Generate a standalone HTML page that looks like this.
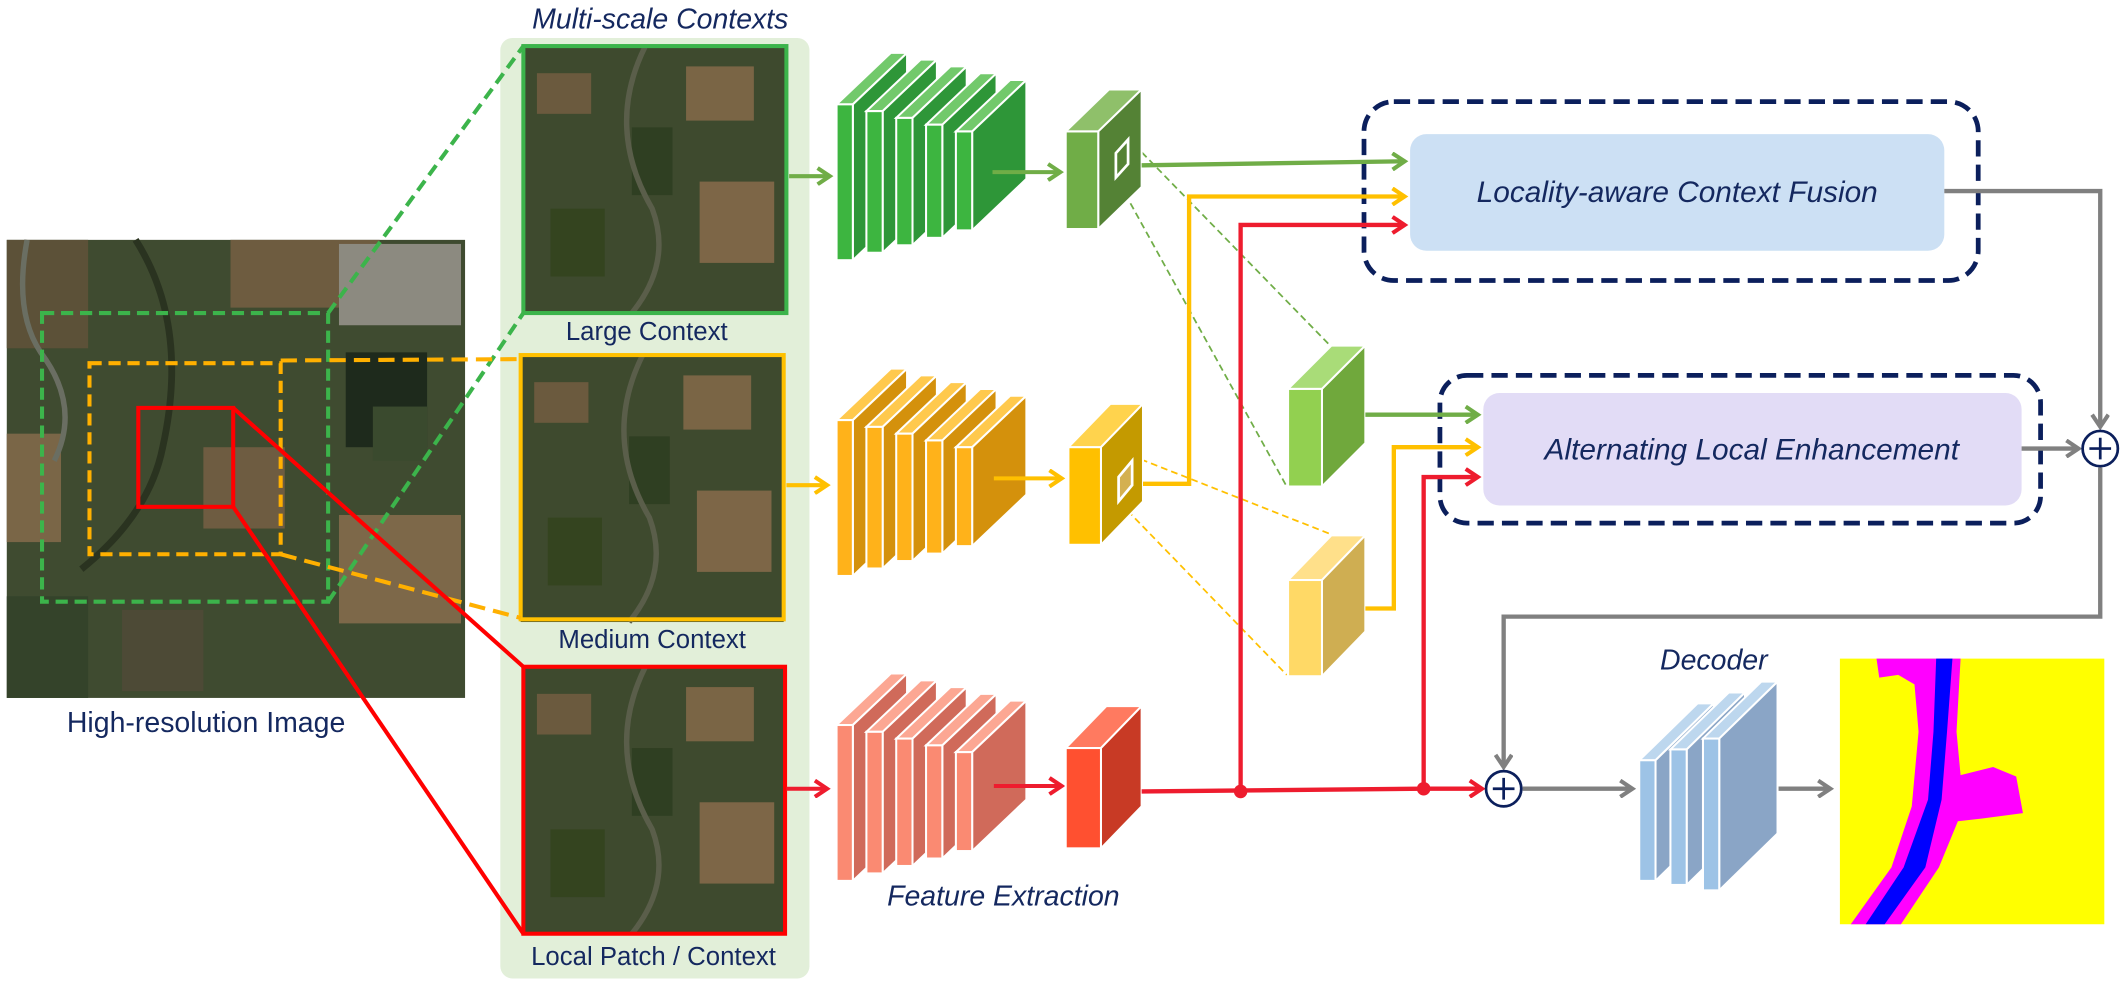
<!DOCTYPE html>
<html><head><meta charset="utf-8"><style>
html,body{margin:0;padding:0;background:#fff}
svg{display:block}
text{font-family:"Liberation Sans","DejaVu Sans",sans-serif;fill:#14285f}
.it{font-style:italic}
.g1 rect{fill:#3db540}.g1 .tp{fill:#72c96b}.g1 .sd{fill:#2e9638}
.o1 rect{fill:#ffb21a}.o1 .tp{fill:#ffc94d}.o1 .sd{fill:#d4910c}
.r1 rect{fill:#fa8a72}.r1 .tp{fill:#fca793}.r1 .sd{fill:#d06a5a}
.b1 rect{fill:#9dc3e6}.b1 .tp{fill:#bdd7ee}.b1 .sd{fill:#8aa5c6}
.sl *{stroke:#fff;stroke-width:1.5}
</style></head><body>
<svg width="2126" height="992" viewBox="0 0 1568 732" preserveAspectRatio="none" xmlns="http://www.w3.org/2000/svg">
<defs>
<marker id="ag" markerWidth="14" markerHeight="14" refX="11" refY="7" orient="auto" markerUnits="userSpaceOnUse"><path d="M2,1 L11,7 L2,13" fill="none" stroke="#70ad47" stroke-width="3"/></marker>
<marker id="ao" markerWidth="14" markerHeight="14" refX="11" refY="7" orient="auto" markerUnits="userSpaceOnUse"><path d="M2,1 L11,7 L2,13" fill="none" stroke="#ffc000" stroke-width="3"/></marker>
<marker id="ar" markerWidth="14" markerHeight="14" refX="11" refY="7" orient="auto" markerUnits="userSpaceOnUse"><path d="M2,1 L11,7 L2,13" fill="none" stroke="#ee1c2e" stroke-width="3"/></marker>
<marker id="ay" markerWidth="14" markerHeight="14" refX="11" refY="7" orient="auto" markerUnits="userSpaceOnUse"><path d="M2,1 L11,7 L2,13" fill="none" stroke="#808080" stroke-width="3"/></marker>
<g id="sat">
 <rect x="0" y="0" width="194" height="197" fill="#3e4a2e"/>
 <rect x="10" y="20" width="40" height="30" fill="#6b5a3e"/>
 <rect x="120" y="15" width="50" height="40" fill="#7a6545"/>
 <rect x="130" y="100" width="55" height="60" fill="#7d6647"/>
 <rect x="20" y="120" width="40" height="50" fill="#34441f"/>
 <rect x="80" y="60" width="30" height="50" fill="#2f3f22"/>
 <path d="M90,0 Q60,60 95,120 Q110,160 80,197" stroke="#5a5e4a" stroke-width="4" fill="none"/>
</g>
</defs>

<!-- Satellite image -->
<rect x="5" y="177" width="338" height="338" fill="#3f4b30"/>
<rect x="5" y="177" width="60" height="80" fill="#5c5138"/>
<rect x="170" y="177" width="110" height="50" fill="#6e5c40"/>
<rect x="250" y="180" width="90" height="60" fill="#8c8a80"/>
<rect x="255" y="260" width="60" height="70" fill="#1e2a1c"/>
<rect x="275" y="300" width="40" height="40" fill="#3a4a2e"/>
<rect x="5" y="320" width="40" height="80" fill="#7a6647"/>
<rect x="150" y="330" width="60" height="60" fill="#6e5c41"/>
<rect x="250" y="380" width="90" height="80" fill="#7d6849"/>
<rect x="90" y="450" width="60" height="60" fill="#4d4a36"/>
<rect x="5" y="440" width="60" height="75" fill="#34432a"/>
<path d="M20,177 Q10,230 30,260 Q60,300 40,340" stroke="#6a6e62" stroke-width="4" fill="none"/>
<path d="M100,177 Q140,240 120,330 Q110,380 60,420" stroke="#2a3320" stroke-width="5" fill="none"/>
<text x="152" y="540" font-size="21" text-anchor="middle">High-resolution Image</text>

<!-- green panel -->
<rect x="369" y="28" width="228" height="694" rx="9" fill="#e2efd9"/>
<text x="487" y="21" font-size="21" class="it" text-anchor="middle">Multi-scale Contexts</text>

<!-- context images -->
<use href="#sat" transform="translate(386,34)"/>
<rect x="386" y="34" width="194" height="197" fill="none" stroke="#3cb44b" stroke-width="3"/>
<text x="477" y="251" font-size="19" text-anchor="middle">Large Context</text>
<use href="#sat" transform="translate(384,262)"/>
<rect x="384" y="262" width="194" height="195" fill="none" stroke="#ffc000" stroke-width="3"/>
<text x="481" y="478" font-size="19" text-anchor="middle">Medium Context</text>
<use href="#sat" transform="translate(386,492)"/>
<rect x="386" y="492" width="193" height="197" fill="none" stroke="#ff0000" stroke-width="3"/>
<text x="482" y="712" font-size="19" text-anchor="middle">Local Patch / Context</text>

<!-- boxes in big image and zoom lines -->
<rect x="31" y="231" width="211" height="213" fill="none" stroke="#3cb44b" stroke-width="3" stroke-dasharray="9 5"/>
<rect x="66" y="268" width="141" height="141" fill="none" stroke="#ffb000" stroke-width="3" stroke-dasharray="9 5"/>
<rect x="102" y="301" width="70" height="73" fill="none" stroke="#ff0000" stroke-width="3"/>
<line x1="242" y1="231" x2="386" y2="34" stroke="#3cb44b" stroke-width="3" stroke-dasharray="9 5"/>
<line x1="242" y1="444" x2="386" y2="231" stroke="#3cb44b" stroke-width="3" stroke-dasharray="9 5"/>
<line x1="207" y1="266" x2="384" y2="265" stroke="#ffb000" stroke-width="3" stroke-dasharray="12 6"/>
<line x1="207" y1="409" x2="384" y2="456" stroke="#ffb000" stroke-width="3" stroke-dasharray="12 6"/>
<line x1="172" y1="301" x2="386" y2="492" stroke="#ff0000" stroke-width="3"/>
<line x1="172" y1="374" x2="386" y2="689" stroke="#ff0000" stroke-width="3"/>

<!-- arrows into stacks -->
<line x1="582" y1="130" x2="612" y2="130" stroke="#70ad47" stroke-width="3" marker-end="url(#ag)"/>
<line x1="580" y1="358" x2="610" y2="358" stroke="#ffc000" stroke-width="3" marker-end="url(#ao)"/>
<line x1="580" y1="582" x2="610" y2="582" stroke="#ee1c2e" stroke-width="3" marker-end="url(#ar)"/>

<!-- stacks -->
<g class="sl g1">
 <polygon class="tp" points="617,77 629,77 669,39 657,39"/><polygon class="sd" points="629,77 669,39 669,154 629,192"/><rect x="617" y="77" width="12" height="115"/>
 <polygon class="tp" points="639,82 651,82 691,44 679,44"/><polygon class="sd" points="651,82 691,44 691,148.5 651,186.5"/><rect x="639" y="82" width="12" height="104.5"/>
 <polygon class="tp" points="661,87 673,87 713,49 701,49"/><polygon class="sd" points="673,87 713,49 713,143 673,181"/><rect x="661" y="87" width="12" height="94"/>
 <polygon class="tp" points="683,92 695,92 735,54 723,54"/><polygon class="sd" points="695,92 735,54 735,137.5 695,175.5"/><rect x="683" y="92" width="12" height="83.5"/>
 <polygon class="tp" points="705,97 717,97 757,59 745,59"/><polygon class="sd" points="717,97 757,59 757,132 717,170"/><rect x="705" y="97" width="12" height="73"/>
</g>
<g class="sl o1" transform="translate(0,233)">
 <polygon class="tp" points="617,77 629,77 669,39 657,39"/><polygon class="sd" points="629,77 669,39 669,154 629,192"/><rect x="617" y="77" width="12" height="115"/>
 <polygon class="tp" points="639,82 651,82 691,44 679,44"/><polygon class="sd" points="651,82 691,44 691,148.5 651,186.5"/><rect x="639" y="82" width="12" height="104.5"/>
 <polygon class="tp" points="661,87 673,87 713,49 701,49"/><polygon class="sd" points="673,87 713,49 713,143 673,181"/><rect x="661" y="87" width="12" height="94"/>
 <polygon class="tp" points="683,92 695,92 735,54 723,54"/><polygon class="sd" points="695,92 735,54 735,137.5 695,175.5"/><rect x="683" y="92" width="12" height="83.5"/>
 <polygon class="tp" points="705,97 717,97 757,59 745,59"/><polygon class="sd" points="717,97 757,59 757,132 717,170"/><rect x="705" y="97" width="12" height="73"/>
</g>
<g class="sl r1" transform="translate(0,458)">
 <polygon class="tp" points="617,77 629,77 669,39 657,39"/><polygon class="sd" points="629,77 669,39 669,154 629,192"/><rect x="617" y="77" width="12" height="115"/>
 <polygon class="tp" points="639,82 651,82 691,44 679,44"/><polygon class="sd" points="651,82 691,44 691,148.5 651,186.5"/><rect x="639" y="82" width="12" height="104.5"/>
 <polygon class="tp" points="661,87 673,87 713,49 701,49"/><polygon class="sd" points="673,87 713,49 713,143 673,181"/><rect x="661" y="87" width="12" height="94"/>
 <polygon class="tp" points="683,92 695,92 735,54 723,54"/><polygon class="sd" points="695,92 735,54 735,137.5 695,175.5"/><rect x="683" y="92" width="12" height="83.5"/>
 <polygon class="tp" points="705,97 717,97 757,59 745,59"/><polygon class="sd" points="717,97 757,59 757,132 717,170"/><rect x="705" y="97" width="12" height="73"/>
</g>
<text x="740" y="668" font-size="21" class="it" text-anchor="middle">Feature Extraction</text>

<line x1="732" y1="127" x2="782" y2="127" stroke="#70ad47" stroke-width="3" marker-end="url(#ag)"/>
<line x1="733" y1="353" x2="783" y2="353" stroke="#ffc000" stroke-width="3" marker-end="url(#ao)"/>
<line x1="733" y1="580" x2="783" y2="580" stroke="#ee1c2e" stroke-width="3" marker-end="url(#ar)"/>

<!-- thin dashed -->
<g stroke-width="1.3" stroke-dasharray="5 3" fill="none">
<line x1="831" y1="101" x2="981" y2="255" stroke="#70ad47"/>
<line x1="826" y1="136" x2="949" y2="359" stroke="#70ad47"/>
<line x1="834" y1="336" x2="981" y2="394" stroke="#ffc000"/>
<line x1="826" y1="371" x2="949" y2="498" stroke="#ffc000"/>
</g>

<!-- cubes -->
<g stroke="#fff" stroke-width="1.5">
<polygon points="786,97 810,97 842,66 818,66" fill="#8fc06a"/><polygon points="810,97 842,66 842,138 810,169" fill="#548235"/><rect x="786" y="97" width="24" height="72" fill="#70ad47"/>
<polygon points="823,113 832,103 832,121 823,131" fill="#548235" stroke-width="2"/>
<polygon points="788,330 812,330 843,298 819,298" fill="#ffd34d"/><polygon points="812,330 843,298 843,370 812,402" fill="#c49a00"/><rect x="788" y="330" width="24" height="72" fill="#ffc000"/>
<polygon points="825,352 835,340 835,358 825,370" fill="#d4b050" stroke-width="2"/>
<polygon points="786,552 812,552 842,521 816,521" fill="#ff7a60"/><polygon points="812,552 842,521 842,595 812,626" fill="#c83a25"/><rect x="786" y="552" width="26" height="74" fill="#ff5030"/>
<polygon points="950,287 975,287 1007,255 982,255" fill="#a9dc78"/><polygon points="975,287 1007,255 1007,327 975,359" fill="#70a83c"/><rect x="950" y="287" width="25" height="72" fill="#92d050"/>
<polygon points="950,428 975,428 1007,395 982,395" fill="#ffe08a"/><polygon points="975,428 1007,395 1007,466 975,499" fill="#cfae52"/><rect x="950" y="428" width="25" height="71" fill="#ffd966"/>
</g>

<!-- modules -->
<rect x="1006" y="75" width="453" height="132" rx="22" fill="none" stroke="#0b1f5c" stroke-width="3.5" stroke-dasharray="12 6"/>
<rect x="1040" y="99" width="394" height="86" rx="12" fill="#cce0f4"/>
<text x="1237" y="149" font-size="22" class="it" text-anchor="middle">Locality-aware Context Fusion</text>
<rect x="1062" y="277" width="443" height="109" rx="20" fill="none" stroke="#0b1f5c" stroke-width="3.5" stroke-dasharray="12 6"/>
<rect x="1094" y="290" width="397" height="83" rx="12" fill="#e2dcf6"/>
<text x="1292" y="339" font-size="22" class="it" text-anchor="middle">Alternating Local Enhancement</text>

<!-- connectors -->
<g fill="none" stroke-width="3.2">
<polyline points="842,122 1036,119" stroke="#70ad47" marker-end="url(#ag)"/>
<polyline points="843,357 877,357 877,145 1036,145" stroke="#ffc000" marker-end="url(#ao)"/>
<polyline points="842,584 1050,582 1093,582" stroke="#ee1c2e" marker-end="url(#ar)"/>
<polyline points="915,584 915,166 1036,166" stroke="#ee1c2e" marker-end="url(#ar)"/>
<polyline points="1050,582 1050,352 1090,352" stroke="#ee1c2e" marker-end="url(#ar)"/>
<polyline points="1007,306 1090,306" stroke="#70ad47" marker-end="url(#ag)"/>
<polyline points="1007,449 1028,449 1028,330 1090,330" stroke="#ffc000" marker-end="url(#ao)"/>
<polyline points="1434,141 1549,141 1549,315" stroke="#808080" marker-end="url(#ay)"/>
<polyline points="1491,331 1533,331" stroke="#808080" marker-end="url(#ay)"/>
<polyline points="1549,345 1549,455 1109,455 1109,566" stroke="#808080" marker-end="url(#ay)"/>
<polyline points="1123,582 1204,582" stroke="#808080" marker-end="url(#ay)"/>
<polyline points="1298,582 1350,582" stroke="#808080" marker-end="url(#ay)"/>
</g>
<circle cx="915" cy="584" r="5" fill="#ee1c2e"/>
<circle cx="1050" cy="582" r="5" fill="#ee1c2e"/>
<g stroke="#0b1f5c" stroke-width="2">
<circle cx="1549" cy="331" r="13" fill="#fff"/><path d="M1541,331 H1557 M1549,323 V339"/>
<circle cx="1109" cy="582" r="13" fill="#fff"/><path d="M1101,582 H1117 M1109,574 V590"/>
</g>

<!-- decoder -->
<text x="1264" y="494" font-size="21" class="it" text-anchor="middle">Decoder</text>
<g class="sl b1">
<polygon class="tp" points="1209,561 1221,561 1264,519 1252,519"/><polygon class="sd" points="1221,561 1264,519 1264,608 1221,650"/><rect x="1209" y="561" width="12" height="89"/>
<polygon class="tp" points="1232,553 1244,553 1287,511 1275,511"/><polygon class="sd" points="1244,553 1287,511 1287,611 1244,653"/><rect x="1232" y="553" width="12" height="100"/>
<polygon class="tp" points="1256,545 1268,545 1311,503 1299,503"/><polygon class="sd" points="1268,545 1311,503 1311,615 1268,657"/><rect x="1256" y="545" width="12" height="112"/>
</g>

<!-- output -->
<rect x="1357" y="486" width="195" height="196" fill="#ffff00"/>
<path d="M1384,486 L1446,486 L1443,540 L1446,572 L1470,566 L1487,573 L1492,600 L1462,604 L1444,606 L1430,640 L1402,682 L1365,682 L1395,640 L1410,595 L1415,540 L1412,505 L1400,498 L1386,500 Z" fill="#ff00ff"/>
<path d="M1428,486 L1440,486 L1436,540 L1432,590 L1420,640 L1390,682 L1376,682 L1404,640 L1422,590 L1426,540 Z" fill="#0000ff"/>
</svg>
</body></html>
